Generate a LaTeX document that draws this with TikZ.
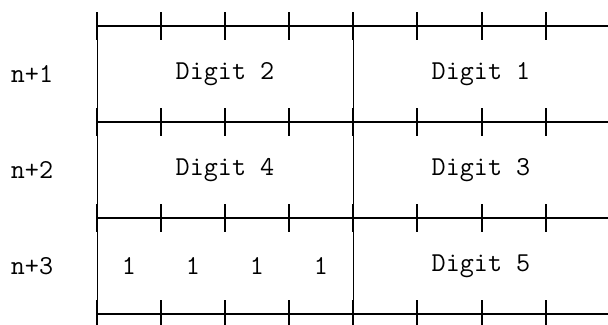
\documentclass[tikz,border=0pt]{standalone}
\usepackage{fontspec}
\usetikzlibrary{calc}

\tikzset{
	wordline/.style={line width=1.5pt},
	cellfont/.style={font=\fontsize{20.5}{22}\selectfont\ttfamily, inner sep=0pt}
}

\begin{document}
\begin{tikzpicture}[x=0.75pt, y=-0.75pt, thick]
	\useasboundingbox (0,0) rectangle (608,325);
	
	% rows and bit ticks
	\foreach \y in {26,122,218,314} {
		\draw[wordline] (97,\y) -- (608,\y);
		\foreach \x in {97,161,225,289,353,417,482,546} {\draw[wordline] (\x,\y-14) -- (\x,\y+14);}
	}
	\draw[line width=0.75pt] (97,12) -- (97,325);
	\draw[line width=0.75pt] (353,12) -- (353,325);
	
	% labels
	\node[cellfont] (row1) at (32,74) {n+1};
	\node[cellfont] (row2) at (32,170) {n+2};
	\node[cellfont] (row3) at (32,266) {n+3};
	
	\node[cellfont] (dig2) at (225,74) {Digit 2};
	\node[cellfont] (dig1) at (481,74) {Digit 1};
	\node[cellfont] (dig4) at (225,170) {Digit 4};
	\node[cellfont] (dig3) at (481,170) {Digit 3};
	\node[cellfont] (dig5) at (481,266) {Digit 5};
	\foreach \x [count=\i] in {129,193,257,321} {
		\node[cellfont] (one\i) at (\x,266) {1};
	}
\end{tikzpicture}
\end{document}
